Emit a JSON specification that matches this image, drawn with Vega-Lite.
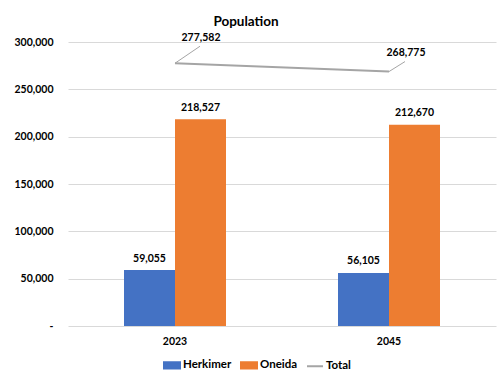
{
  "$schema": "https://vega.github.io/schema/vega-lite/v6.json",
  "width": 428,
  "height": 284,
  "autosize": {"type": "none"},
  "padding": {"left": 68, "top": 42, "right": 4, "bottom": 53},
  "background": "white",
  "title": {
    "text": "Population",
    "font": "Lato",
    "fontSize": 13.5,
    "fontWeight": "bold",
    "color": "#000000",
    "dx": -36,
    "offset": 5
  },
  "config": {
    "font": "Lato",
    "view": {"stroke": null},
    "axis": {
      "labelFont": "Lato",
      "labelFontSize": 10.5,
      "labelFontWeight": "bold",
      "labelColor": "#000000",
      "domain": false,
      "ticks": false,
      "title": null
    }
  },
  "datasets": {
    "bars": [
      {"year": "2023", "county": "Herkimer", "population": 59055},
      {"year": "2023", "county": "Oneida", "population": 218527},
      {"year": "2045", "county": "Herkimer", "population": 56105},
      {"year": "2045", "county": "Oneida", "population": 212670}
    ],
    "totals": [
      {"year": "2023", "total": 277582},
      {"year": "2045", "total": 268775}
    ]
  },
  "layer": [
    {
      "data": {"name": "bars"},
      "mark": {"type": "bar"},
      "encoding": {
        "x": {
          "field": "year",
          "type": "nominal",
          "scale": {"paddingInner": 0.5234, "paddingOuter": 0.2617},
          "axis": {"labelAngle": 0, "labelPadding": 10, "grid": false}
        },
        "xOffset": {
          "field": "county",
          "type": "nominal",
          "scale": {"paddingInner": 0, "paddingOuter": 0}
        },
        "y": {
          "field": "population",
          "type": "quantitative",
          "scale": {"domain": [0, 300000], "nice": false},
          "axis": {
            "values": [0, 50000, 100000, 150000, 200000, 250000, 300000],
            "grid": true,
            "gridColor": "#D9D9D9",
            "gridWidth": 1,
            "labelPadding": 15,
            "labelExpr": "datum.value === 0 ? '-\u00a0\u00a0' : format(datum.value, ',')"
          }
        },
        "color": {
          "field": "county",
          "type": "nominal",
          "scale": {
            "domain": ["Herkimer", "Oneida", "Total"],
            "range": ["#4472C4", "#ED7D31", "#A5A5A5"]
          },
          "legend": {
            "orient": "none",
            "legendX": 95,
            "legendY": 314,
            "direction": "horizontal",
            "title": null,
            "labelFont": "Lato",
            "labelFontSize": 11.5,
            "labelFontWeight": "bold",
            "labelColor": "#000000",
            "labelOffset": 2,
            "columnPadding": 5,
            "symbolSize": 256,
            "symbolStrokeWidth": 0,
            "symbolType": "M-1,-0.4H1V0.4H-1Z",
            "encode": {
              "symbols": {
                "update": {
                  "shape": {"signal": "datum.value === 'Total' ? 'M-1,0H1' : 'M-1,-0.4H1V0.4H-1Z'"},
                  "fill": {"signal": "datum.value === 'Total' ? 'transparent' : scale('color', datum.value)"},
                  "stroke": {"signal": "datum.value === 'Total' ? '#A5A5A5' : 'transparent'"},
                  "strokeWidth": {"value": 2},
                  "opacity": {"value": 1}
                }
              }
            }
          }
        }
      }
    },
    {
      "data": {"name": "bars"},
      "mark": {"type": "text", "baseline": "middle", "dy": -11.5, "fontSize": 10.5, "fontWeight": "bold", "color": "#000000"},
      "encoding": {
        "x": {"field": "year", "type": "nominal"},
        "xOffset": {"field": "county", "type": "nominal"},
        "y": {"field": "population", "type": "quantitative"},
        "text": {"field": "population", "type": "quantitative", "format": ","}
      }
    },
    {
      "data": {"name": "totals"},
      "mark": {"type": "line", "strokeWidth": 2},
      "encoding": {
        "x": {"field": "year", "type": "nominal"},
        "y": {"field": "total", "type": "quantitative"},
        "color": {"datum": "Total"}
      }
    },
    {
      "data": {"name": "totals"},
      "transform": [{"filter": "datum.year === '2023'"}],
      "mark": {"type": "rule", "color": "#A5A5A5", "strokeWidth": 1, "x2Offset": 25, "y2Offset": -17},
      "encoding": {
        "x": {"field": "year", "type": "nominal"},
        "y": {"field": "total", "type": "quantitative"},
        "x2": {"field": "year"},
        "y2": {"field": "total"}
      }
    },
    {
      "data": {"name": "totals"},
      "transform": [{"filter": "datum.year === '2045'"}],
      "mark": {"type": "rule", "color": "#A5A5A5", "strokeWidth": 1, "x2Offset": 16, "y2Offset": -10},
      "encoding": {
        "x": {"field": "year", "type": "nominal"},
        "y": {"field": "total", "type": "quantitative"},
        "x2": {"field": "year"},
        "y2": {"field": "total"}
      }
    },
    {
      "data": {"name": "totals"},
      "transform": [{"filter": "datum.year === '2023'"}],
      "mark": {"type": "text", "baseline": "middle", "dx": 26, "dy": -25, "fontSize": 10.5, "fontWeight": "bold", "color": "#000000"},
      "encoding": {
        "x": {"field": "year", "type": "nominal"},
        "y": {"field": "total", "type": "quantitative"},
        "text": {"field": "total", "type": "quantitative", "format": ","}
      }
    },
    {
      "data": {"name": "totals"},
      "transform": [{"filter": "datum.year === '2045'"}],
      "mark": {"type": "text", "baseline": "middle", "dx": 17, "dy": -19, "fontSize": 10.5, "fontWeight": "bold", "color": "#000000"},
      "encoding": {
        "x": {"field": "year", "type": "nominal"},
        "y": {"field": "total", "type": "quantitative"},
        "text": {"field": "total", "type": "quantitative", "format": ","}
      }
    }
  ]
}
